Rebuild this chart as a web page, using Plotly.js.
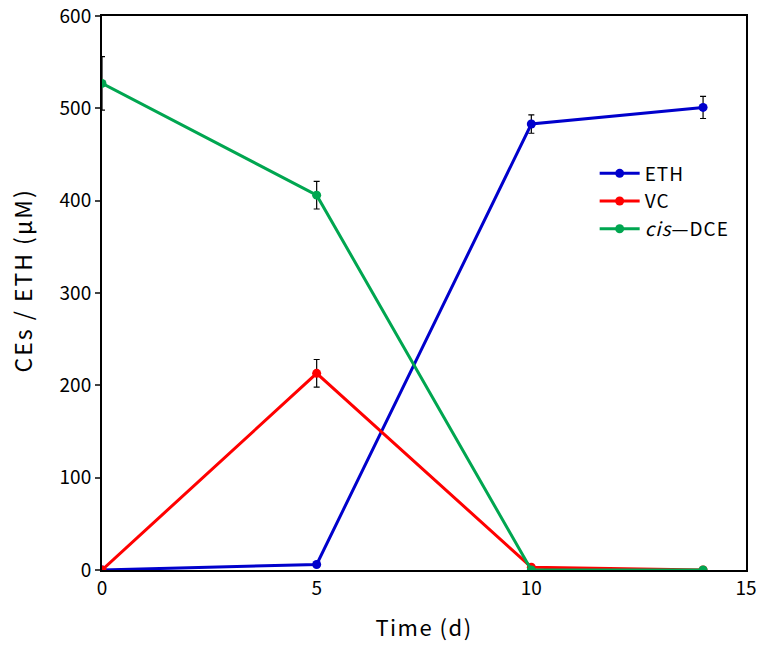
<!DOCTYPE html>
<html><head><meta charset="utf-8">
<script src="https://cdn.plot.ly/plotly-3.0.1.min.js"></script>
<style>
body{margin:0;background:#fff}
.xtitle{letter-spacing:1.5px}
.annotation-text{letter-spacing:2px}
.legendtext{letter-spacing:1px}
</style>
</head><body><div id="chart" style="width:758px;height:652px"></div>
<script>
const days = [0, 5, 10, 14];
const eth = [0, 6, 483, 501];
const ethErr = [0, 0, 10, 12];
const vc = [0, 213, 3, 0];
const vcErr = [0, 15, 0, 0];
const dce = [527, 406, 0, 0];
const dceErr = [29, 15, 0, 0];
const names = ['ETH', 'VC', '<i>cis</i>\u2014DCE'];
const colors = ['#0000cc', '#ff0000', '#00a650'];
const yTitle = 'CEs / ETH (\u03bcM)';
const xTitle = 'Time (d)';

function tr(y, err, i) {
  return {
    x: days, y: y, name: names[i], type: 'scatter', mode: 'lines+markers',
    line: {color: colors[i], width: 3},
    marker: {color: colors[i], size: 9},
    error_y: {type: 'data', array: err, visible: true, color: '#000', thickness: 1.2, width: 3}
  };
}
const data = [tr(eth, ethErr, 0), tr(vc, vcErr, 1), tr(dce, dceErr, 2)];

const font = "'Noto Sans CJK JP', 'DejaVu Sans', sans-serif";
const layout = {
  width: 758, height: 652,
  margin: {l: 102, r: 12, t: 16, b: 82},
  paper_bgcolor: '#fff', plot_bgcolor: '#fff',
  font: {family: font, color: '#000', size: 19},
  showlegend: true,
  legend: {x: 0.765, y: 0.75, xanchor: 'left', yanchor: 'top', bgcolor: 'rgba(0,0,0,0)',
           font: {size: 19}, tracegroupgap: 0, itemwidth: 40},
  xaxis: {
    range: [0, 15], tickvals: [0, 5, 10, 15], ticks: '', showgrid: false, zeroline: false,
    showline: true, mirror: true, linecolor: '#000', linewidth: 2,
    tickfont: {size: 19},
    title: {text: xTitle, font: {size: 22}, standoff: 22}
  },
  yaxis: {
    range: [0, 600], tickvals: [0, 100, 200, 300, 400, 500, 600], ticks: 'outside', ticklen: 5, tickwidth: 1.5,
    showgrid: false, zeroline: false,
    showline: true, mirror: true, linecolor: '#000', linewidth: 2,
    tickfont: {size: 19}
  },
  annotations: [{
    text: yTitle, textangle: -90, showarrow: false,
    xref: 'paper', yref: 'paper', x: -0.124, y: 0.523, xanchor: 'center', yanchor: 'middle',
    font: {size: 23, family: font, color: '#000'}
  }]
};
Plotly.newPlot('chart', data, layout, {displayModeBar: false});
</script></body></html>
